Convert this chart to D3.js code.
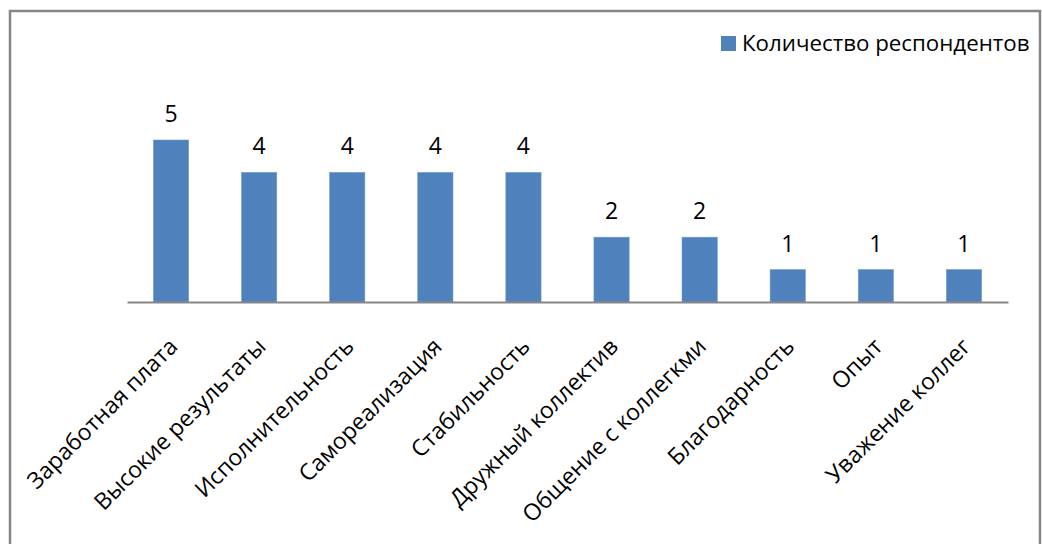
<!DOCTYPE html>
<html>
<head>
<meta charset="utf-8">
<script src="https://cdn.jsdelivr.net/npm/d3@7"></script>
<style>
  html, body { margin: 0; padding: 0; background: #fff; }
  svg { display: block; }
  text { font-family: "Open Sans", "DejaVu Sans", sans-serif; fill: #000; }
</style>
</head>
<body>
<svg id="chart" width="1042" height="544"></svg>
<script>
// Categories and respondent counts
const categories = [
  "Заработная плата",
  "Высокие результаты",
  "Исполнительность",
  "Самореализация",
  "Стабильность",
  "Дружный коллектив",
  "Общение с коллегкми",
  "Благодарность",
  "Опыт",
  "Уважение коллег"
];
const counts = [5, 4, 4, 4, 4, 2, 2, 1, 1, 1];
const seriesName = "Количество респондентов";

const W = 1042, H = 544;
const plot = { left: 127, right: 1008, top: 140, bottom: 302 };
const barColor = "#4F81BD";
const lineColor = "#868686";

const svg = d3.select("#chart");

// Outer chart frame (left, top and right edges visible)
svg.append("path")
  .attr("d", `M10,${H} L10,11 L1040,11 L1040,${H}`)
  .attr("fill", "none")
  .attr("stroke", lineColor)
  .attr("stroke-width", 2.5);

const x = d3.scaleBand()
  .domain(categories)
  .range([plot.left, plot.right])
  .paddingInner(0.6)
  .paddingOuter(0.3);

const y = d3.scaleLinear()
  .domain([0, 5])
  .range([plot.bottom, plot.top]);

const data = categories.map((c, i) => ({ c, v: counts[i] }));

// Bars
svg.append("g")
  .selectAll("rect")
  .data(data)
  .join("rect")
  .attr("x", d => x(d.c))
  .attr("y", d => y(d.v))
  .attr("width", x.bandwidth())
  .attr("height", d => y(0) - y(d.v))
  .attr("fill", barColor)
  .attr("stroke", "#6f9bd0")
  .attr("stroke-width", 0.6);

// Category axis (line only, no ticks)
const xAxis = svg.append("g")
  .attr("transform", `translate(0,${y(0)})`)
  .call(d3.axisBottom(x).tickSize(0).tickPadding(0).tickSizeOuter(0));
xAxis.select(".domain")
  .attr("stroke", lineColor)
  .attr("stroke-width", 2);
xAxis.selectAll(".tick text")
  .attr("font-size", 23)
  .attr("font-family", "\"Open Sans\", sans-serif")
  .attr("fill", "#000")
  .attr("text-anchor", "end")
  .attr("dy", 0)
  .attr("y", 0)
  .attr("transform", "translate(8,46) rotate(-45)");

// Value labels above bars
svg.append("g")
  .selectAll("text")
  .data(data)
  .join("text")
  .attr("x", d => x(d.c) + x.bandwidth() / 2)
  .attr("y", d => y(d.v) - 18)
  .attr("text-anchor", "middle")
  .attr("font-size", 23)
  .text(d => d.v);

// Legend
const legend = svg.append("g").attr("transform", "translate(721,36)");
legend.append("rect")
  .attr("width", 15)
  .attr("height", 15)
  .attr("fill", barColor);
legend.append("text")
  .attr("x", 21)
  .attr("y", 15)
  .attr("font-size", 22.3)
  .text(seriesName);
</script>
</body>
</html>
